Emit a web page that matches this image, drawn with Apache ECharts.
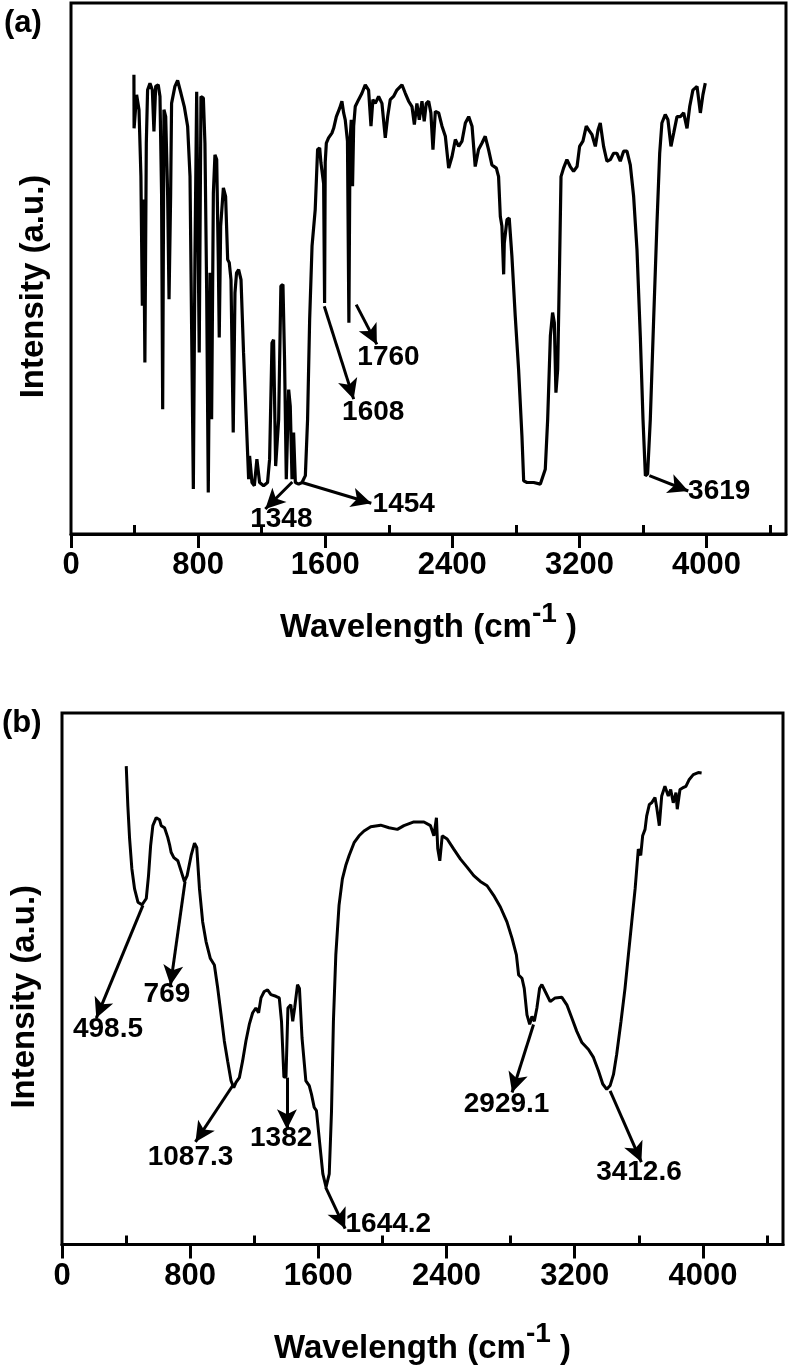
<!DOCTYPE html>
<html>
<head>
<meta charset="utf-8">
<script src="https://cdn.jsdelivr.net/npm/echarts@6.0.0/dist/echarts.min.js"></script>
<style>
html, body { margin: 0; padding: 0; background: #fff; }
#chart { width: 789px; height: 1366px; }
</style>
</head>
<body>
<div id="chart"></div>
<script>
// (a) spectrum: [wavenumber, intensity a.u.]
var spectrumA = [
    [396,86.5],[397,76.4],[413,82.7],[428,79.9],[440,67.4],[449,43],[457,63],[465,32.3],[474,73.6],[482,83.6],
    [497,84.9],[512,83.6],[522,75.8],[533,84.3],[549,84.6],[560,82.4],[570,64.2],[577,23.5],[585,79.9],[596,78.6],
    [608,64.2],[617,44.2],[627,63.6],[633,81.1],[654,84.3],[671,85.4],[692,83],[713,80.5],[734,76.8],[749,67.4],
    [759,39.2],[770,8.5],[780,51.7],[791,83.3],[801,83.6],[807,34.2],[818,82.4],[833,82.1],[843,73.6],[854,45.4],
    [864,7.8],[875,49.2],[885,21.6],[896,64.2],[906,71.4],[917,70.5],[927,51.7],[933,37],[942,58],[959,65.2],
    [973,63.6],[986,51.7],[996,51.1],[1007,47.9],[1021,19.1],[1032,45.4],[1042,49.2],[1055,49.8],[1070,47.9],[1086,34.1],
    [1103,21.6],[1118,10.3],[1124,14.7],[1139,9.7],[1154,9.1],[1170,14.1],[1187,9.7],[1212,9.1],[1237,9.7],[1250,14.1],
    [1265,36],[1275,36.6],[1288,12.8],[1307,21.6],[1321,46.7],[1334,47],[1344,32.9],[1355,10.3],[1370,27.2],[1380,24.1],
    [1391,10.3],[1401,19.1],[1412,9.7],[1433,9.4],[1454,9.7],[1475,11],[1489,21.6],[1502,40.4],[1517,54.2],[1537,61.1],
    [1552,72.4],[1565,72.7],[1573,69.9],[1590,66],[1596,43.5],[1600,70],[1607,73.6],[1621,74.6],[1642,75.5],[1653,76.4],
    [1670,78.6],[1691,80.2],[1705,81.5],[1716,79.3],[1726,78],[1740,74],[1749,39.8],[1756,74],[1764,78],[1772,65.5],
    [1779,76.8],[1789,80.5],[1810,81.8],[1831,83],[1852,84.6],[1873,83.6],[1888,76.8],[1900,81.8],[1915,81.1],[1936,82.4],
    [1957,81.1],[1978,74.6],[1993,78.6],[2009,81.8],[2030,82.4],[2051,83.6],[2083,84.6],[2104,83],[2125,81.5],[2146,80.5],
    [2161,77.1],[2177,81.1],[2192,78],[2209,81.5],[2223,77.7],[2236,81.1],[2251,81.5],[2265,79.3],[2278,72.4],[2293,79.6],
    [2314,79.3],[2335,76.8],[2356,74.9],[2377,68.9],[2398,71.1],[2419,74.3],[2440,73],[2461,74],[2482,77.4],[2503,78.6],
    [2524,76.8],[2544,69.2],[2565,72.4],[2586,73.6],[2607,74.9],[2628,72.4],[2649,69.5],[2677,68.9],[2691,67.3],[2702,59.8],
    [2712,58],[2723,48.9],[2727,54.8],[2744,59.2],[2758,59.5],[2775,52.3],[2796,41],[2817,31],[2838,18.5],[2849,10],
    [2870,9.7],[2912,9.7],[2954,9.4],[2985,12.2],[3000,21.6],[3017,37.3],[3031,41.7],[3042,39.8],[3052,26.6],[3063,31],
    [3075,51],[3084,67.3],[3100,68.9],[3121,70.5],[3142,69.2],[3163,68.3],[3185,69.2],[3201,73],[3222,74],[3243,76.8],
    [3258,76.1],[3279,75.2],[3300,73],[3317,76.1],[3331,77.4],[3352,73],[3373,70.2],[3394,70.5],[3415,71.7],[3436,71.7],
    [3457,70.2],[3478,72.1],[3499,72.1],[3520,69.5],[3541,63.6],[3562,53.6],[3583,37.3],[3600,21.6],[3615,11],[3629,11.3],
    [3646,21.6],[3667,40.4],[3688,58.6],[3705,71.7],[3719,77.4],[3740,79],[3757,78],[3776,73],[3793,75.5],[3814,78.6],
    [3835,78.6],[3856,79.3],[3877,76.4],[3894,80.5],[3914,83.6],[3940,84.3],[3961,79.3],[3977,82.7],[3992,84.9]
];

// (b) spectrum: [wavenumber, intensity a.u.]
var spectrumB = [
    [401,90],[411,82.5],[422,76.3],[436,70.7],[453,66.9],[474,64.4],[499,63.9],[526,65.1],[540,69.4],[553,75],
    [567,78.8],[588,80.3],[609,79.9],[619,78.8],[640,78.4],[660,76.6],[671,75.3],[681,73.8],[698,72.8],[723,72.2],
    [743,70.3],[764,68.3],[781,69.4],[806,73.2],[827,75.5],[841,74.7],[858,66.9],[878,60.7],[899,57],[926,53.8],
    [951,52.6],[972,48.2],[993,43.2],[1013,38.3],[1034,34.5],[1055,30.8],[1072,29.5],[1086,30.5],[1107,31.4],[1127,34.5],
    [1148,38.3],[1169,41.4],[1190,43.6],[1210,44.5],[1227,43.6],[1242,46.4],[1262,47.6],[1283,47.9],[1304,47],[1335,46.7],
    [1356,46.4],[1370,42],[1385,31.5],[1398,31.5],[1410,44.5],[1418,44.8],[1428,45.1],[1440,42],[1452,44.5],[1470,48.9],
    [1482,48.2],[1498,38.9],[1522,30.8],[1543,29.9],[1557,28.3],[1574,25.8],[1588,25.2],[1609,18.9],[1628,13.3],[1648,10.8],
    [1668,13.3],[1682,25],[1694,42],[1709,54.5],[1729,63.8],[1750,68.8],[1771,71.3],[1792,73.2],[1823,75.6],[1854,76.9],
    [1885,77.8],[1927,78.6],[1989,78.9],[2041,78.4],[2093,78.1],[2134,78.8],[2196,79.5],[2259,79.5],[2300,78.8],[2321,76.9],
    [2337,80.3],[2345,74.5],[2352,74.4],[2358,72.2],[2373,76.9],[2404,76.3],[2445,74.4],[2487,72.5],[2528,71],[2570,69.4],
    [2611,68.3],[2653,67.5],[2694,65.7],[2736,63.5],[2777,60.7],[2809,57.6],[2836,54.5],[2850,50.7],[2871,50.1],[2885,48.2],
    [2902,43.2],[2919,41.4],[2933,42.9],[2948,42],[2964,44.5],[2981,48.2],[2995,48.9],[3016,47.6],[3047,45.7],[3078,46.4],
    [3120,46.5],[3151,45.1],[3182,42.6],[3213,40.1],[3245,38],[3286,36.7],[3317,35.2],[3348,32.7],[3375,30.2],[3400,29.2],
    [3421,29.9],[3442,32],[3462,35.8],[3489,42],[3514,48.2],[3535,54.5],[3556,60.7],[3577,66.9],[3597,74.4],[3612,73.2],
    [3624,76.9],[3639,78.1],[3649,80.6],[3666,82.8],[3680,83.1],[3701,84.1],[3712,82.2],[3728,78.8],[3743,84.4],[3763,86.2],
    [3784,84.4],[3799,85.6],[3815,83.1],[3832,85],[3840,81.9],[3857,85.6],[3873,85.9],[3894,86.2],[3915,87.5],[3940,88.4],
    [3971,88.8],[3992,88.7]
];

var xTicks = [0, 800, 1600, 2400, 3200, 4000];
var xMinorTicks = [400, 1200, 2000, 2800, 3600, 4400];

var peaksA = ['1760', '1608', '1454', '1348', '3619'];
var peaksB = ['498.5', '769', '1087.3', '1382', '1644.2', '2929.1', '3412.6'];

// arrow start, arrow tip, label centre (data units), same order as peaks
var arrowsA = [
    [1795, 43.2, 1925, 35.7, 1998, 33.3],
    [1594, 42.9, 1779, 25.4, 1902, 22.9],
    [1454, 9.7, 1890, 5.8, 2094, 5.6],
    [1393, 9.8, 1223, 4.7, 1324, 2.8],
    [3640, 11, 3885, 8.1, 4080, 8.1]
];
var arrowsB = [
    [505, 63.8, 214, 42.6, 287, 40.4],
    [768, 68.3, 677, 48.8, 655, 47.0],
    [1072, 30.2, 833, 19.3, 802, 16.4],
    [1404, 31.4, 1404, 21.7, 1368, 20.0],
    [1645, 10.8, 1767, 3.0, 2037, 3.8],
    [2943, 41.4, 2809, 28.6, 2775, 26.4],
    [3421, 28.9, 3616, 15.5, 3601, 13.6]
];

var FONT = "'Liberation Sans', Arial, Helvetica, sans-serif";

function mainX(gridIndex, gap) {
    return {
        gridIndex: gridIndex,
        type: 'value',
        min: 0,
        max: 4500,
        name: '{t|Wavelength (cm}{s|-1}{t| )}',
        nameLocation: 'middle',
        nameGap: gap,
        nameTextStyle: {
            rich: {
                t: { fontSize: 33, fontWeight: 'bold', fontFamily: FONT, color: '#000', lineHeight: 56 },
                s: { fontSize: 28, fontWeight: 'bold', fontFamily: FONT, color: '#000', lineHeight: 26, verticalAlign: 'top' }
            }
        },
        axisLine: { show: true, onZero: false, lineStyle: { color: '#000', width: 3 } },
        axisTick: { show: true, length: 14, lineStyle: { color: '#000', width: 3 }, customValues: xTicks },
        axisLabel: {
            customValues: xTicks,
            formatter: function (v) { return String(v); },
            fontSize: 31, fontWeight: 'bold', fontFamily: FONT, color: '#000', margin: 16
        },
        splitLine: { show: false }
    };
}

function minorX(gridIndex) {
    return {
        gridIndex: gridIndex,
        type: 'value',
        min: 0,
        max: 4500,
        axisLine: { show: false },
        axisTick: { show: true, length: 9, lineStyle: { color: '#000', width: 3 }, customValues: xMinorTicks },
        axisLabel: { show: false },
        splitLine: { show: false }
    };
}

function yAx(gridIndex, gap) {
    return {
        gridIndex: gridIndex,
        type: 'value',
        min: 0,
        max: 100,
        name: 'Intensity (a.u.)',
        nameLocation: 'middle',
        nameGap: gap,
        nameTextStyle: { fontSize: 33, fontWeight: 'bold', fontFamily: FONT, color: '#000', padding: [0, 36, 0, 0] },
        axisLine: { show: false },
        axisTick: { show: false },
        axisLabel: { show: false },
        splitLine: { show: false }
    };
}

function spectrumSeries(idx, data, labels, arrows, width) {
    return {
        type: 'line',
        xAxisIndex: idx * 2,
        yAxisIndex: idx,
        data: data,
        showSymbol: false,
        symbol: 'none',
        lineStyle: { color: '#000', width: width },
        silent: true,
        markLine: {
            silent: true,
            animation: false,
            symbol: ['none', 'arrow'],
            symbolSize: [15, 20],
            lineStyle: { color: '#000', width: 3, type: 'solid' },
            label: { show: false },
            data: arrows.map(function (a) {
                return [{ coord: [a[0], a[1]] }, { coord: [a[2], a[3]] }];
            })
        },
        markPoint: {
            silent: true,
            animation: false,
            symbol: 'circle',
            symbolSize: 0,
            label: {
                show: true, position: 'inside', formatter: '{b}',
                color: '#000', fontSize: 28, fontWeight: 'bold', fontFamily: FONT
            },
            data: labels.map(function (t, i) {
                return { name: t, coord: [arrows[i][4], arrows[i][5]] };
            })
        }
    };
}

var option = {
    backgroundColor: '#fff',
    animation: false,
    title: [
        { text: '(a)', left: 4, top: 8, padding: 0,
          textStyle: { fontSize: 31, fontWeight: 'bold', fontFamily: FONT, color: '#000' } },
        { text: '(b)', left: 2, top: 708, padding: 0,
          textStyle: { fontSize: 31, fontWeight: 'bold', fontFamily: FONT, color: '#000' } }
    ],
    grid: [
        { left: 71, top: 3, width: 715, height: 531, show: true, borderColor: '#000', borderWidth: 3, backgroundColor: 'transparent' },
        { left: 61, top: 713, width: 722, height: 535, show: true, borderColor: '#000', borderWidth: 3, backgroundColor: 'transparent' }
    ],
    xAxis: [mainX(0, 66), minorX(0), mainX(1, 76), minorX(1)],
    yAxis: [yAx(0, 21), yAx(1, 21)],
    series: [
        spectrumSeries(0, spectrumA, peaksA, arrowsA, 3.2),
        spectrumSeries(1, spectrumB, peaksB, arrowsB, 3)
    ]
};

var chart = echarts.init(document.getElementById('chart'));
chart.setOption(option);
</script>
</body>
</html>
